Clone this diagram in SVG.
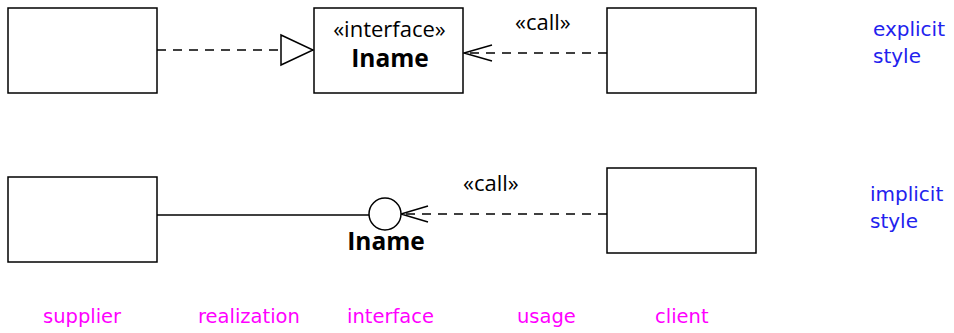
<svg xmlns="http://www.w3.org/2000/svg" width="954" height="333" viewBox="0 0 954 333">
<style>
.box{fill:#fff;stroke:#000;stroke-width:1.5}
.ln{fill:none;stroke:#000;stroke-width:1.5}
.dash{fill:none;stroke:#000;stroke-width:1.5;stroke-dasharray:9,7}
.t{font-family:"Open Sans","Liberation Sans",sans-serif;font-size:22px;fill:#000}
.b{font-family:"Open Sans","Liberation Sans",sans-serif;font-size:24.5px;font-weight:bold;fill:#000}
.blue{font-family:"DejaVu Sans",sans-serif;font-size:20px;fill:#2222ee}
.mag{font-family:"DejaVu Sans",sans-serif;font-size:19.5px;fill:#ff00ff}
</style>
<rect width="954" height="333" fill="#fff"/>
<g id="connectors">
<line class="dash" x1="157" y1="50" x2="281" y2="50"/>
<polygon points="281,35 313,50 281,65" fill="#fff" stroke="#000" stroke-width="1.5"/>
<line class="dash" x1="607" y1="53" x2="464" y2="53"/>
<polyline class="ln" points="492,45 464,53 492,61"/>
<text class="t" x="515" y="30">«call»</text>
<line class="ln" x1="157" y1="215" x2="369" y2="215"/>
<line class="dash" x1="607" y1="214" x2="401" y2="214"/>
<polyline class="ln" points="428,206 401,214 428,222"/>
<text class="t" x="463" y="191">«call»</text>
</g>
<g id="supplier1"><rect class="box" x="8" y="8" width="149" height="85"/></g>
<g id="interface1"><rect class="box" x="314" y="8" width="149" height="85"/>
<text class="t" x="389.5" y="37" text-anchor="middle">«interface»</text>
<text class="b" x="390" y="67" text-anchor="middle">Iname</text></g>
<g id="client1"><rect class="box" x="607" y="8" width="149" height="85"/></g>
<g id="supplier2"><rect class="box" x="8" y="177" width="149" height="85"/></g>
<g id="interface2"><circle cx="385" cy="214" r="16" fill="#fff" stroke="#000" stroke-width="1.5"/>
<text class="b" x="386" y="250" text-anchor="middle">Iname</text></g>
<g id="client2"><rect class="box" x="607" y="168" width="149" height="85"/></g>
<g id="labels">
<text class="blue" x="873" y="36">explicit</text>
<text class="blue" x="873" y="63">style</text>
<text class="blue" x="870" y="201">implicit</text>
<text class="blue" x="870" y="228">style</text>
<text class="mag" x="43" y="323">supplier</text>
<text class="mag" x="198" y="323">realization</text>
<text class="mag" x="347" y="323">interface</text>
<text class="mag" x="517" y="323">usage</text>
<text class="mag" x="655" y="323">client</text>
</g>
</svg>
